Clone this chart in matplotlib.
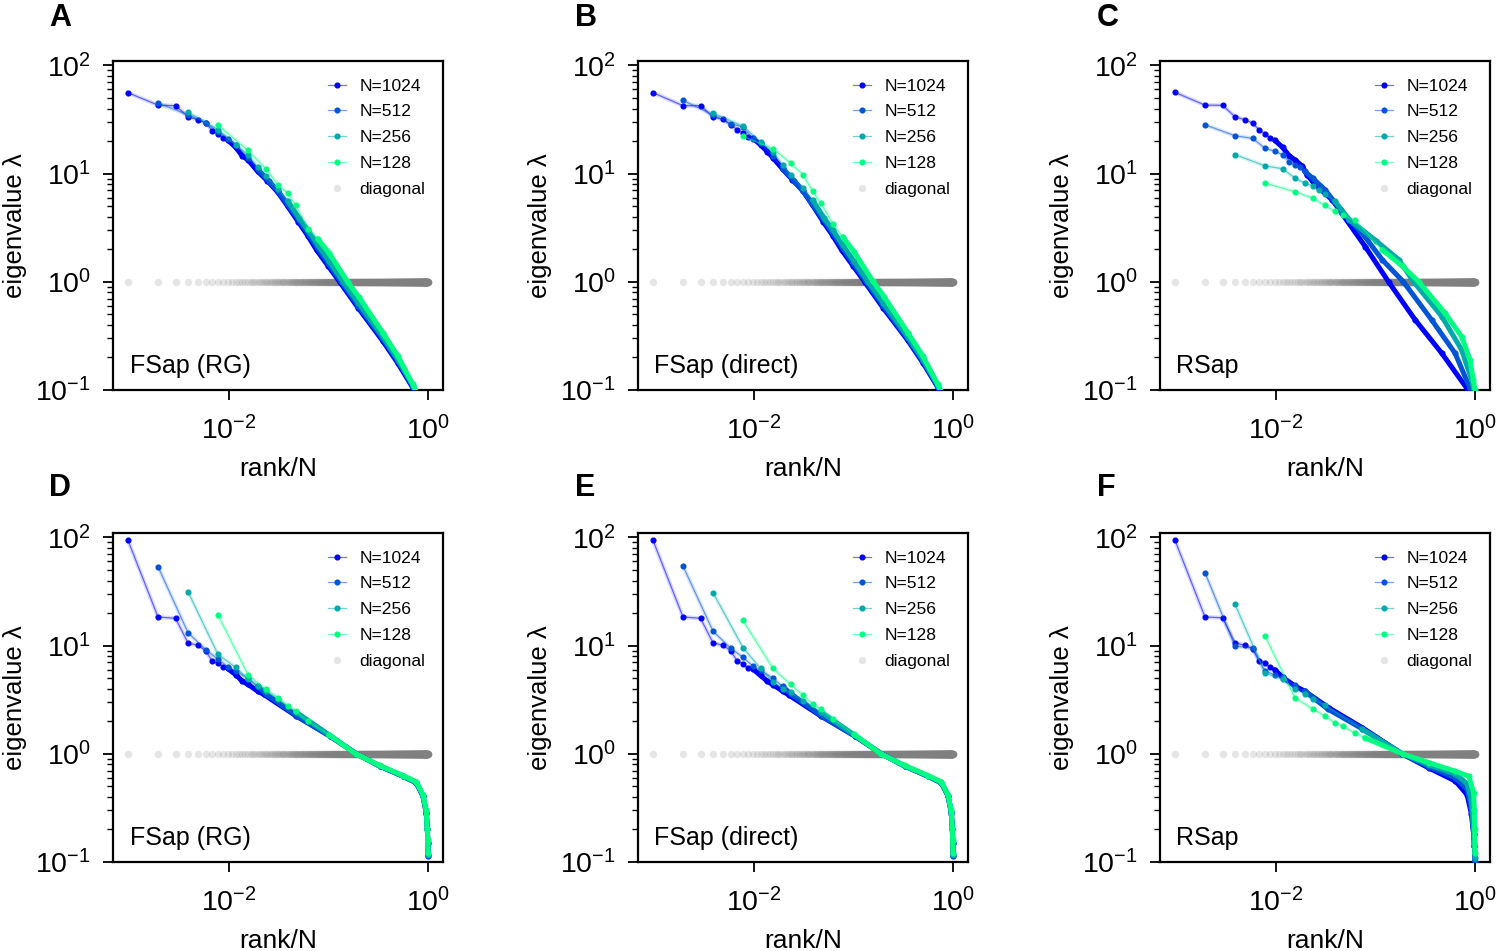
import numpy as np
import matplotlib
matplotlib.use('Agg')
import matplotlib.pyplot as plt
from matplotlib.ticker import LogLocator, NullLocator

plt.rcParams['font.family'] = ['Liberation Sans', 'DejaVu Sans']
plt.rcParams['mathtext.fontset'] = 'custom'
plt.rcParams['mathtext.rm'] = 'Liberation Sans'
plt.rcParams['mathtext.it'] = 'Liberation Sans:italic'
plt.rcParams['mathtext.bf'] = 'Liberation Sans:bold'

# system sizes and labels
sizes = [1024, 512, 256, 128]
size_labels = ['N=1024', 'N=512', 'N=256', 'N=128']
panel_letters = ['A', 'B', 'C', 'D', 'E', 'F']
panel_names = ['FSap (RG)', 'FSap (direct)', 'RSap', 'FSap (RG)', 'FSap (direct)', 'RSap']

# diagonal reference (all eigenvalues = 1)
diag_n = 1024
diag_value = 1.0

# ---------------- panel A ----------------
A_1024_rank = [1, 2, 3, 4, 5, 6, 7, 8, 9, 10, 12, 14, 16, 20, 25, 32, 40, 51, 64, 78, 102, 133, 205, 358, 512, 725, 870, 1024]
A_1024_eig = [56, 43, 42.5, 33.7, 31.5, 29.7, 25, 23.3, 21.3, 20.4, 17.6, 14.6, 13.4, 10.5, 8.6, 6.7, 5.0, 3.6, 2.65, 1.97, 1.40, 1.0, 0.57, 0.286, 0.176, 0.104, 0.072, 0.048]
A_512_rank = [1, 2, 3, 4, 5, 6, 8, 10, 13, 16, 20, 26, 32, 40, 51, 68, 102, 179, 256, 362, 435, 512]
A_512_eig = [44.9, 35, 29.5, 24.5, 21, 18.5, 14, 11, 8.5, 6.9, 5.2, 3.7, 2.8, 2.05, 1.48, 1.02, 0.6, 0.3, 0.185, 0.107, 0.075, 0.05]
A_256_rank = [1, 2, 3, 4, 5, 6, 8, 10, 13, 16, 20, 26, 36, 51, 90, 128, 181, 218, 256]
A_256_eig = [37, 25.5, 18.5, 14.9, 11.5, 9.5, 7.2, 5.6, 3.9, 3.0, 2.2, 1.55, 1.0, 0.64, 0.31, 0.19, 0.11, 0.077, 0.052]
A_128_rank = [1, 2, 3, 4, 5, 6, 8, 10, 13, 20, 26, 45, 64, 90, 109, 128]
A_128_eig = [28.1, 16.4, 11.1, 7.9, 6.6, 5.1, 3.1, 2.5, 1.85, 1.0, 0.72, 0.34, 0.205, 0.113, 0.078, 0.052]

# ---------------- panel B ----------------
B_1024_rank = A_1024_rank
B_1024_eig = [56, 42.5, 42.5, 33.4, 32, 28.3, 25.5, 23.7, 22, 21.3, 18.5, 16, 14, 11, 8.8, 6.9, 5.1, 3.6, 2.65, 1.97, 1.40, 1.0, 0.57, 0.29, 0.178, 0.105, 0.073, 0.048]
B_512_rank = A_512_rank
B_512_eig = [47.6, 35, 29, 27, 21, 19, 14.5, 11.2, 8.6, 6.9, 5.2, 3.7, 2.8, 2.05, 1.48, 1.02, 0.6, 0.3, 0.185, 0.107, 0.075, 0.05]
B_256_rank = A_256_rank
B_256_eig = [36.3, 27.5, 19.5, 16, 12, 9.8, 7.3, 5.7, 3.9, 3.0, 2.2, 1.55, 1.0, 0.64, 0.31, 0.19, 0.11, 0.077, 0.052]
B_128_rank = [1, 2, 3, 4, 5, 6, 8, 10, 13, 20, 26, 45, 64, 90, 109, 128]
B_128_eig = [22.1, 17, 12.5, 9.8, 6.85, 5.4, 3.4, 2.6, 1.9, 1.02, 0.73, 0.34, 0.205, 0.113, 0.078, 0.052]

# ---------------- panel C ----------------
C_1024_rank = [1, 2, 3, 4, 5, 6, 7, 8, 9, 10, 12, 14, 16, 19, 21, 24, 28, 38, 47, 81, 139, 257, 475, 846, 1024]
C_1024_eig = [56.4, 43, 42.8, 33.6, 31.5, 29.4, 25.3, 23.4, 21.5, 20.4, 17.5, 14.6, 13.4, 11.7, 9.8, 8.5, 7.35, 5.7, 4.32, 2.12, 1.0, 0.445, 0.219, 0.104, 0.065]
C_512_rank = [1, 2, 3, 4, 5, 6, 7, 8, 9, 10, 12, 16, 23, 40, 60, 98, 188, 323, 456, 512]
C_512_eig = [28.3, 22.4, 21.2, 17.2, 16.1, 15.0, 12.8, 12.0, 11.5, 10.5, 9.1, 7.1, 4.6, 2.63, 1.6, 1.0, 0.445, 0.219, 0.104, 0.075]
C_256_rank = [1, 2, 3, 4, 5, 6, 7, 8, 10, 14, 26, 44, 62, 119, 188, 237, 256]
C_256_eig = [15, 11.8, 11.1, 9.1, 8.2, 7.7, 7.0, 6.5, 5.6, 3.75, 2.4, 1.6, 1.0, 0.478, 0.235, 0.124, 0.09]
C_128_rank = [1, 2, 3, 4, 5, 6, 8, 15, 24, 35, 64, 94, 114, 123, 128]
C_128_eig = [8.18, 6.8, 5.94, 5.08, 4.48, 4.17, 3.7, 1.98, 1.39, 1.0, 0.513, 0.312, 0.19, 0.124, 0.1]

# ---------------- panel D ----------------
D_1024_rank = [1, 2, 3, 4, 5, 6, 7, 8, 9, 10, 12, 14, 16, 20, 23, 49, 106, 196, 336, 575, 782, 912, 985, 1010, 1020, 1024]
D_1024_eig = [94, 18.4, 17.9, 10.6, 10.1, 9.0, 7.2, 6.95, 6.3, 6.15, 5.4, 4.7, 4.38, 3.8, 3.54, 2.23, 1.46, 1.0, 0.77, 0.62, 0.54, 0.406, 0.284, 0.2, 0.15, 0.113]
D_512_rank = [1, 2, 3, 4, 5, 6, 8, 10, 12, 25, 53, 98, 168, 288, 391, 456, 493, 505, 510, 512]
D_512_eig = [53.7, 13.2, 9.2, 7.5, 6.4, 5.8, 5.0, 4.2, 3.6, 2.22, 1.46, 1.0, 0.77, 0.62, 0.54, 0.41, 0.28, 0.2, 0.15, 0.115]
D_256_rank = [1, 2, 3, 4, 5, 6, 8, 12, 26, 49, 84, 144, 196, 228, 246, 252, 255, 256]
D_256_eig = [31.5, 8.3, 6.3, 4.9, 4.2, 3.8, 3.2, 2.45, 1.5, 1.0, 0.77, 0.62, 0.54, 0.41, 0.29, 0.2, 0.15, 0.115]
D_128_rank = [1, 2, 3, 4, 5, 6, 8, 13, 24, 42, 72, 98, 114, 123, 126, 127, 128]
D_128_eig = [19.2, 5.4, 3.94, 3.3, 2.76, 2.48, 2.0, 1.5, 1.0, 0.78, 0.63, 0.55, 0.42, 0.3, 0.2, 0.16, 0.12]

# ---------------- panel E ----------------
E_1024_rank = D_1024_rank
E_1024_eig = [94, 18.4, 17.9, 10.6, 10.1, 9.0, 7.2, 6.8, 6.2, 6.1, 5.3, 4.7, 4.35, 3.8, 3.5, 2.22, 1.46, 1.0, 0.77, 0.62, 0.54, 0.41, 0.29, 0.2, 0.15, 0.113]
E_512_rank = D_512_rank
E_512_eig = [54.5, 13.6, 9.5, 7.8, 6.5, 5.9, 5.0, 4.2, 3.6, 2.22, 1.46, 1.0, 0.77, 0.62, 0.54, 0.41, 0.28, 0.2, 0.15, 0.115]
E_256_rank = D_256_rank
E_256_eig = [30.9, 9.6, 6.15, 4.6, 4.0, 3.7, 3.1, 2.45, 1.5, 1.0, 0.77, 0.62, 0.54, 0.41, 0.29, 0.2, 0.15, 0.115]
E_128_rank = D_128_rank
E_128_eig = [17.1, 6.15, 4.38, 3.49, 2.86, 2.6, 2.1, 1.52, 1.0, 0.78, 0.63, 0.55, 0.42, 0.3, 0.2, 0.16, 0.12]

# ---------------- panel F ----------------
F_1024_rank = [1, 2, 3, 4, 5, 6, 7, 8, 9, 10, 12, 16, 20, 35, 76, 190, 352, 651, 852, 941, 993, 1010, 1024]
F_1024_eig = [94, 18.4, 18.1, 10.6, 10.1, 9.4, 7.2, 6.95, 6.3, 6.0, 5.1, 4.23, 3.8, 2.66, 1.74, 1.0, 0.74, 0.56, 0.42, 0.28, 0.18, 0.14, 0.1]
F_512_rank = [1, 2, 3, 4, 5, 6, 8, 10, 17, 38, 95, 176, 325, 426, 470, 497, 505, 512]
F_512_eig = [47.3, 9.9, 9.5, 5.8, 5.4, 5.1, 4.3, 3.8, 2.6, 1.7, 1.0, 0.76, 0.6, 0.47, 0.32, 0.18, 0.14, 0.1]
F_256_rank = [1, 2, 3, 4, 5, 6, 8, 19, 48, 88, 163, 213, 235, 248, 252, 256]
F_256_eig = [24.1, 5.6, 4.87, 4.0, 3.6, 3.2, 2.8, 1.68, 1.0, 0.79, 0.65, 0.53, 0.38, 0.2, 0.15, 0.11]
F_128_rank = [1, 2, 3, 4, 5, 6, 8, 10, 24, 44, 81, 111, 124, 126, 127, 128]
F_128_eig = [12.3, 3.3, 2.6, 2.23, 1.94, 1.8, 1.56, 1.41, 1.0, 0.83, 0.69, 0.62, 0.436, 0.3, 0.2, 0.12]

panel_ranks = [
    [A_1024_rank, A_512_rank, A_256_rank, A_128_rank],
    [B_1024_rank, B_512_rank, B_256_rank, B_128_rank],
    [C_1024_rank, C_512_rank, C_256_rank, C_128_rank],
    [D_1024_rank, D_512_rank, D_256_rank, D_128_rank],
    [E_1024_rank, E_512_rank, E_256_rank, E_128_rank],
    [F_1024_rank, F_512_rank, F_256_rank, F_128_rank],
]
panel_eigs = [
    [A_1024_eig, A_512_eig, A_256_eig, A_128_eig],
    [B_1024_eig, B_512_eig, B_256_eig, B_128_eig],
    [C_1024_eig, C_512_eig, C_256_eig, C_128_eig],
    [D_1024_eig, D_512_eig, D_256_eig, D_128_eig],
    [E_1024_eig, E_512_eig, E_256_eig, E_128_eig],
    [F_1024_eig, F_512_eig, F_256_eig, F_128_eig],
]

colors = plt.cm.winter(np.linspace(0, 1, len(sizes)))

fig = plt.figure(figsize=(15, 9.51), dpi=100)

W, H = 1500.0, 951.0
ax_lefts = [113, 638, 1160]
ax_bottoms = [390, 862]  # pixel y of bottom spine
ax_w, ax_h = 330, 329
letter_x = [49, 575, 1097]
letter_y = [17.5, 487.5]

for i in range(6):
    row, col = divmod(i, 3)
    ax = fig.add_axes([ax_lefts[col] / W, 1 - ax_bottoms[row] / H, ax_w / W, ax_h / H])

    # diagonal
    diag_x = np.arange(1, diag_n + 1) / diag_n
    hd, = ax.plot(diag_x, np.full(diag_n, diag_value), 'o', ms=5.3, color='gray',
                  alpha=0.2, mec='none', zorder=1, label='diagonal')

    handles = []
    for n, rk, ev, c, lab in zip(sizes, panel_ranks[i], panel_eigs[i], colors, size_labels):
        rk = np.array(rk)
        ev = np.array(ev)
        x = rk / n
        # light band around the mean curve
        ax.plot(x, ev, '-', color=c, lw=3.0, alpha=0.15, zorder=2)
        h, = ax.plot(x, ev, '-', color=(c[0], c[1], c[2], 0.55), lw=0.9, marker='o', ms=3.4,
                     mfc=c, mec=c, zorder=3, label=lab)
        # dense part: consecutive ranks merge into a thick trace
        dense = rk >= 10
        ax.plot(x[dense], ev[dense], '-', color=c, lw=3.6, solid_capstyle='round',
                solid_joinstyle='round', zorder=3)
        handles.append(h)

    ax.set_xscale('log')
    ax.set_yscale('log')
    ax.set_ylim(0.1, 110)
    ax.set_xticks([1e-2, 1e0])
    ax.xaxis.set_minor_locator(NullLocator())
    ax.yaxis.set_major_locator(LogLocator(base=10, numticks=10))
    ax.yaxis.set_minor_locator(LogLocator(base=10, subs=np.arange(2, 10), numticks=10))
    ax.tick_params(which='both', direction='out', top=False, right=False, labelsize=20.5)
    ax.tick_params(which='major', length=7, width=1.3)
    ax.tick_params(which='minor', length=4, width=1.0)
    ax.tick_params(axis='y', pad=9)
    ax.tick_params(axis='x', pad=12)
    for sp in ax.spines.values():
        sp.set_linewidth(1.6)

    ax.set_xlabel('rank/N', fontsize=19, labelpad=8)
    ax.set_ylabel('eigenvalue λ', fontsize=18.5, labelpad=6)

    ax.legend(handles + [hd], size_labels + ['diagonal'], loc='upper right', frameon=False,
              fontsize=12.6, handlelength=1.0, handletextpad=0.8, labelspacing=0.6,
              borderaxespad=0.6)
    ax.text(0.05, 0.035, panel_names[i], transform=ax.transAxes, fontsize=18,
            ha='left', va='bottom')

    fig.text(letter_x[col] / W, 1 - letter_y[row] / H, panel_letters[i], fontsize=22,
             fontweight='bold', ha='left', va='center')

fig.savefig('out.png', dpi=100)
